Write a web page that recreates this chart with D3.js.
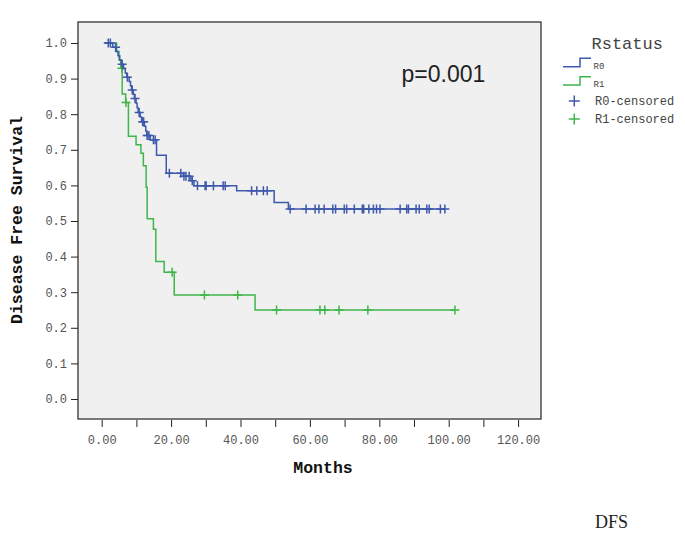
<!DOCTYPE html>
<html>
<head>
<meta charset="utf-8">
<script src="https://cdn.jsdelivr.net/npm/d3@7"></script>
<style>
  html, body { margin: 0; padding: 0; background: #ffffff; }
  svg { display: block; }
</style>
</head>
<body>
<svg id="chart" width="685" height="537"></svg>
<script>
// ---------- data ----------
const groups = ["R0", "R1"];
const startTime = 0.9;

const r0EventTimes = [3.2, 4.2, 4.7, 5.2, 5.7, 6.3, 6.8, 7.2, 7.9, 8.3, 8.6, 9.1, 9.4, 9.9, 10.2, 10.5, 11.1, 11.5, 12.3, 12.7, 13.0, 14.0, 15.8, 18.6, 23.5, 25.7, 26.6, 38.9, 49.7, 53.8];
const r0Survival   = [0.988, 0.976, 0.964, 0.952, 0.940, 0.928, 0.916, 0.904, 0.892, 0.880, 0.868, 0.856, 0.844, 0.831, 0.818, 0.805, 0.792, 0.779, 0.766, 0.753, 0.740, 0.728, 0.685, 0.634, 0.626, 0.613, 0.599, 0.585, 0.552, 0.534];
const r0Censored   = [1.9, 2.5, 4.0, 5.9, 7.4, 8.8, 9.6, 10.8, 11.8, 12.1, 13.1, 13.6, 14.9, 15.4, 19.5, 22.8, 23.7, 24.3, 25.2, 26.1, 27.6, 29.8, 30.1, 32.2, 35.0, 35.6, 43.2, 44.7, 46.6, 47.7, 54.3, 58.9, 61.5, 62.6, 64.1, 66.6, 67.4, 69.9, 70.6, 72.8, 75.1, 75.5, 77.0, 78.3, 79.2, 80.2, 86.0, 87.9, 88.4, 90.6, 91.5, 93.7, 94.4, 97.6, 98.9];

const r1EventTimes = [4.3, 5.0, 5.5, 5.9, 6.9, 7.7, 9.9, 11.3, 12.0, 12.8, 13.1, 14.9, 15.6, 18.0, 20.9, 44.2];
const r1Survival   = [0.976, 0.952, 0.929, 0.857, 0.833, 0.738, 0.714, 0.690, 0.655, 0.595, 0.506, 0.477, 0.386, 0.356, 0.292, 0.250];
const r1Censored   = [5.8, 7.0, 20.3, 29.6, 39.2, 50.4, 62.9, 64.3, 68.4, 76.7, 101.8];

const xMajorTicks = [0, 20, 40, 60, 80, 100, 120];
const xMinorTicks = [10, 30, 50, 70, 90, 110];
const yTicks = [0, 0.1, 0.2, 0.3, 0.4, 0.5, 0.6, 0.7, 0.8, 0.9, 1.0];

const colors = { R0: "#3e58ac", R1: "#3fb54a" };

// ---------- layout ----------
const frame = { left: 78, right: 541, top: 22, bottom: 419 };
const svg = d3.select("#chart");
const mono = "'Liberation Mono', 'DejaVu Sans Mono', monospace";

const x = d3.scaleLinear().domain([-6.83, 126.6]).range([frame.left, frame.right]);
const y = d3.scaleLinear().domain([-0.0562, 1.059]).range([frame.bottom, frame.top]);

// background frame
svg.append("rect")
  .attr("x", frame.left).attr("y", frame.top)
  .attr("width", frame.right - frame.left).attr("height", frame.bottom - frame.top)
  .attr("fill", "#f0f0f0");

// y axis
const yAxis = svg.append("g")
  .attr("transform", `translate(${frame.left},0)`)
  .call(d3.axisLeft(y).tickValues(yTicks).tickFormat(d3.format(".1f")).tickSize(7).tickPadding(4));
yAxis.select(".domain").remove();
yAxis.selectAll(".tick line").attr("stroke", "#222");
yAxis.selectAll(".tick text").attr("font-family", mono).attr("font-size", 12).attr("fill", "#555");

// x axis
const xAxis = svg.append("g")
  .attr("transform", `translate(0,${frame.bottom + 1})`)
  .call(d3.axisBottom(x).tickValues(xMajorTicks).tickFormat(d3.format(".2f")).tickSize(7).tickPadding(8));
xAxis.select(".domain").remove();
xAxis.selectAll(".tick line").attr("stroke", "#222");
xAxis.selectAll(".tick text").attr("font-family", mono).attr("font-size", 12).attr("fill", "#555");

const xMinor = svg.append("g")
  .attr("transform", `translate(0,${frame.bottom + 1})`)
  .call(d3.axisBottom(x).tickValues(xMinorTicks).tickFormat("").tickSize(7));
xMinor.select(".domain").remove();
xMinor.selectAll(".tick line").attr("stroke", "#222");

// frame border
svg.append("rect")
  .attr("x", frame.left).attr("y", frame.top)
  .attr("width", frame.right - frame.left).attr("height", frame.bottom - frame.top)
  .attr("fill", "none").attr("stroke", "#222").attr("stroke-width", 1.2);

// axis titles
svg.append("text")
  .attr("x", 323).attr("y", 473)
  .attr("text-anchor", "middle")
  .attr("font-family", mono).attr("font-weight", "bold").attr("font-size", 16.5)
  .attr("fill", "#111")
  .text("Months");

svg.append("text")
  .attr("transform", "translate(21.5,220) rotate(-90)")
  .attr("text-anchor", "middle")
  .attr("font-family", mono).attr("font-weight", "bold").attr("font-size", 16.5)
  .attr("fill", "#111")
  .text("Disease Free Survival");

// ---------- curves ----------
function buildPoints(times, survs, censored) {
  const end = Math.max(times[times.length - 1], censored[censored.length - 1]);
  const pts = [{ t: startTime, s: 1 }];
  times.forEach((t, i) => pts.push({ t, s: survs[i] }));
  pts.push({ t: end, s: survs[survs.length - 1] });
  return pts;
}
function survAt(times, survs, t) {
  let s = 1;
  for (let i = 0; i < times.length; i++) if (times[i] <= t) s = survs[i];
  return s;
}

const line = d3.line().x(d => x(d.t)).y(d => y(d.s)).curve(d3.curveStepAfter);

const series = [
  { key: "R1", times: r1EventTimes, survs: r1Survival, cens: r1Censored },
  { key: "R0", times: r0EventTimes, survs: r0Survival, cens: r0Censored }
];

series.forEach(sr => {
  svg.append("path")
    .datum(buildPoints(sr.times, sr.survs, sr.cens))
    .attr("d", line)
    .attr("fill", "none")
    .attr("stroke", colors[sr.key])
    .attr("stroke-width", 1.5);
  const h = 4.5;
  svg.append("g").selectAll("path")
    .data(sr.cens)
    .join("path")
    .attr("d", t => {
      const cx = x(t), cy = y(survAt(sr.times, sr.survs, t));
      return `M${cx - h},${cy}H${cx + h}M${cx},${cy - h}V${cy + h}`;
    })
    .attr("stroke", colors[sr.key])
    .attr("stroke-width", 1.5)
    .attr("fill", "none");
});

// p-value
svg.append("text")
  .attr("x", 401.5).attr("y", 81.5)
  .attr("font-family", "'Liberation Sans', Arial, sans-serif")
  .attr("font-size", 23).attr("fill", "#222")
  .text("p=0.001");

// ---------- legend ----------
const lg = svg.append("g");
lg.append("text")
  .attr("x", 591.5).attr("y", 49)
  .attr("font-family", mono).attr("font-size", 17).attr("fill", "#444")
  .text("Rstatus");

const legendLines = [
  { key: "R0", low: 66.7, high: 58.3, ty: 68.8 },
  { key: "R1", low: 85, high: 76.7, ty: 87.2 }
];
legendLines.forEach(d => {
  lg.append("path")
    .attr("d", `M563,${d.low}H580V${d.high}H591`)
    .attr("fill", "none").attr("stroke", colors[d.key]).attr("stroke-width", 1.5);
  lg.append("text")
    .attr("x", 593.5).attr("y", d.ty)
    .attr("font-family", mono).attr("font-size", 9).attr("fill", "#444")
    .text(d.key);
});

const legendCens = [
  { key: "R0", cy: 101, label: "R0-censored" },
  { key: "R1", cy: 119, label: "R1-censored" }
];
legendCens.forEach(d => {
  const h = 5.5, cx = 574.3;
  lg.append("path")
    .attr("d", `M${cx - h},${d.cy}H${cx + h}M${cx},${d.cy - h}V${d.cy + h}`)
    .attr("stroke", colors[d.key]).attr("stroke-width", 1.5);
  lg.append("text")
    .attr("x", 595).attr("y", d.cy + 4)
    .attr("font-family", mono).attr("font-size", 12).attr("fill", "#444")
    .text(d.label);
});

// footer label
svg.append("text")
  .attr("x", 595).attr("y", 528)
  .attr("font-family", "'Liberation Serif', 'Times New Roman', serif")
  .attr("font-size", 18).attr("fill", "#222")
  .text("DFS");
</script>
</body>
</html>
